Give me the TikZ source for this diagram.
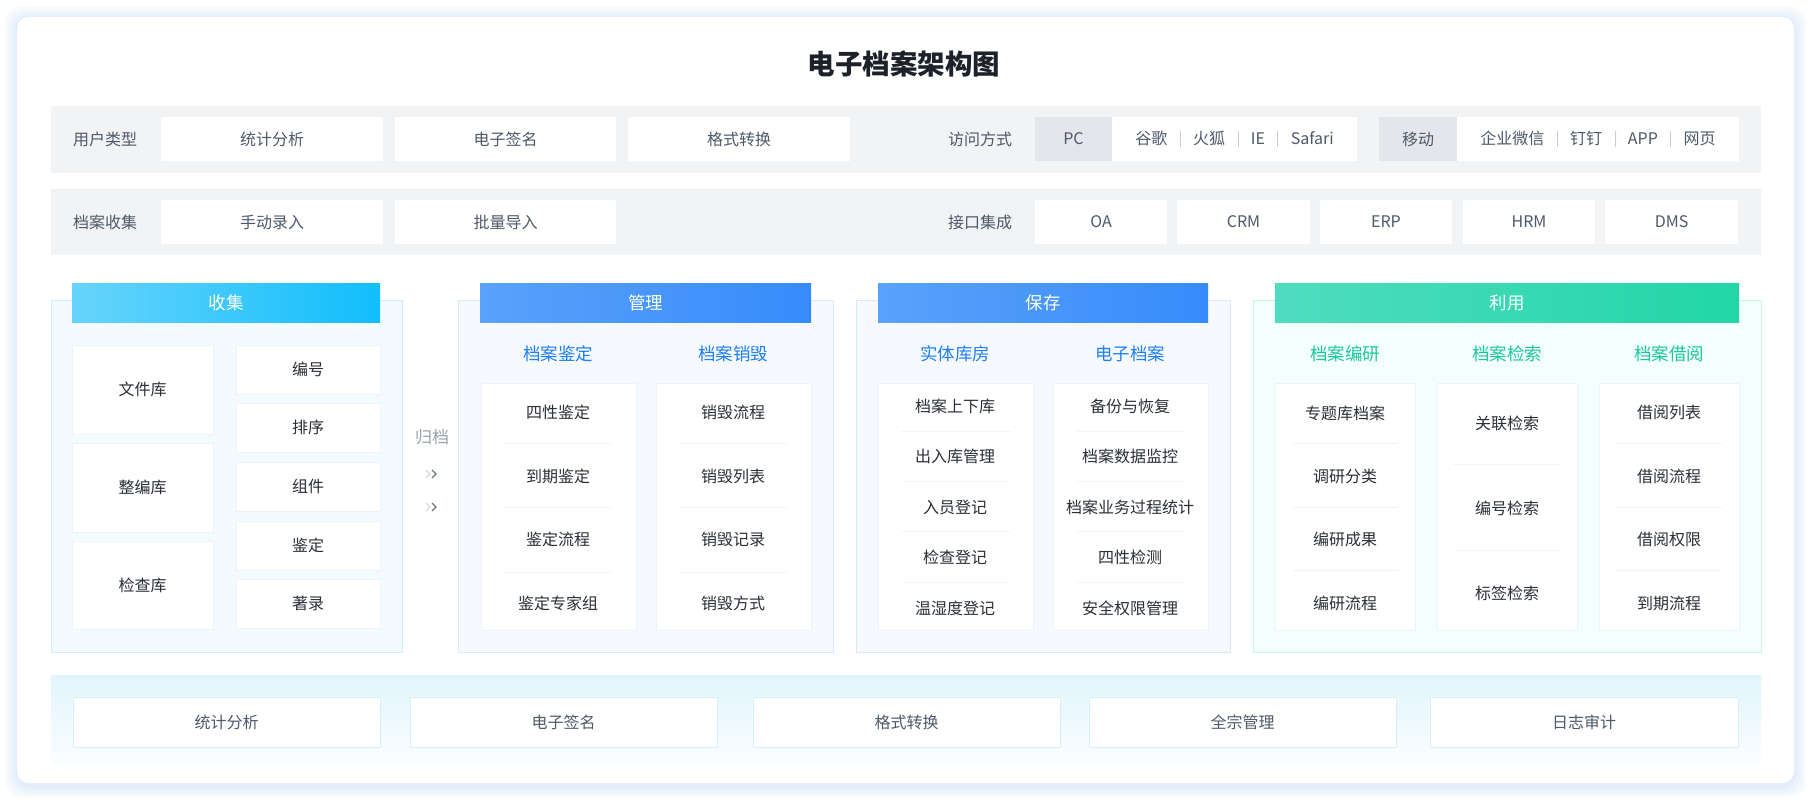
\documentclass[tikz,border=0pt]{standalone}
\usepackage{fontspec}
\setmainfont{Noto Sans CJK SC}
\usetikzlibrary{shadings}
\definecolor{glowc}{HTML}{DCE9FB}
\definecolor{graybar}{HTML}{F2F3F5}
\definecolor{grayhl}{HTML}{E5E6EB}
\definecolor{labelc}{HTML}{4E5969}
\definecolor{txtc}{HTML}{4E5969}
\definecolor{itemc}{HTML}{2B2F36}
\definecolor{titlec}{HTML}{1D2129}
\definecolor{sepc}{HTML}{C9CDD4}
\definecolor{pcfill}{HTML}{F4FBFF}
\definecolor{pcline}{HTML}{CDEEFB}
\definecolor{pmfill}{HTML}{F6F9FE}
\definecolor{pmline}{HTML}{DCE7FB}
\definecolor{pufill}{HTML}{F2FFFC}
\definecolor{puline}{HTML}{C8F5EA}
\definecolor{hcA}{HTML}{66D4FB}
\definecolor{hcB}{HTML}{12BEFC}
\definecolor{hmA}{HTML}{5AA2FB}
\definecolor{hmB}{HTML}{378BFC}
\definecolor{huA}{HTML}{4FDCC0}
\definecolor{huB}{HTML}{22D6A7}
\definecolor{subblue}{HTML}{1F7FF0}
\definecolor{subgreen}{HTML}{1DC79E}
\definecolor{divc}{HTML}{F0F3F8}
\definecolor{wline}{HTML}{EEF3F8}
\definecolor{bandtop}{HTML}{E1F5FD}
\definecolor{bandbot}{HTML}{FBFDFF}
\definecolor{bline}{HTML}{D6F0FA}
\definecolor{arch}{HTML}{9AA3AD}
\definecolor{chevA}{HTML}{D5DAE0}
\definecolor{chevB}{HTML}{6B7480}
\newcommand\sepbar{\hspace{12.5pt}{\color{sepc}\rule[-3pt]{0.8pt}{16pt}}\hspace{12.5pt}}
\newcommand\mybox[7]{\node[#6, minimum width={(#4)-(#2)}, minimum height={(#5)-(#3)}] (#1) at ({((#2)+(#4))/2},{((#3)+(#5))/2}) {#7};}
\newcommand\itm[4]{\node[itemst] (#1) at (#2,#3) {#4};}
\tikzset{
  base/.style={rectangle, inner sep=0pt, outer sep=0pt, font=\fontsize{16}{18}\selectfont, text=txtc},
  cardst/.style={base, fill=white, rounded corners=12pt},
  gbar/.style={base, fill=graybar},
  wbox/.style={base, fill=white},
  hlbox/.style={base, fill=grayhl},
  lbl/.style={inner sep=0pt, font=\fontsize{16}{18}\selectfont, text=labelc},
  panelC/.style={base, fill=pcfill, draw=pcline, line width=1pt},
  panelM/.style={base, fill=pmfill, draw=pmline, line width=1pt},
  panelU/.style={base, fill=pufill, draw=puline, line width=1pt},
  hdrst/.style={base, text=white, font=\fontsize{17.5}{19}\selectfont},
  hdrC/.style={hdrst, left color=hcA, right color=hcB},
  hdrM/.style={hdrst, left color=hmA, right color=hmB},
  hdrU/.style={hdrst, left color=huA, right color=huB},
  cell/.style={base, fill=white, draw=wline, line width=0.6pt, text=itemc},
  listbox/.style={base, fill=white, draw=wline, line width=0.6pt},
  itemst/.style={inner sep=0pt, font=\fontsize{16}{18}\selectfont, text=itemc},
  subB/.style={inner sep=0pt, font=\fontsize{17.5}{19}\selectfont, text=subblue},
  subG/.style={inner sep=0pt, font=\fontsize{17.5}{19}\selectfont, text=subgreen},
  divst/.style={draw=divc, line width=1pt},
  bandst/.style={base, top color=bandtop, bottom color=bandbot},
  bbox/.style={base, fill=white, draw=bline, line width=0.8pt},
  chevL/.style={draw=chevA, line width=1.1pt},
  chevD/.style={draw=chevB, line width=1.1pt},
}
\begin{document}
\begin{tikzpicture}[x=1pt,y=-1pt]
\useasboundingbox[fill=white] (0,0) rectangle (1811,800);
% glow / shadow
\foreach \d/\o in {12/0.18,9/0.22,6/0.3,3/0.45}{
  \fill[glowc, opacity=\o, rounded corners=16pt] ({17-\d},{17-\d+2}) rectangle ({1794+\d},{783+\d+2});
}
\mybox{card}{17}{17}{1794}{783}{cardst}{}
\node[inner sep=0pt, font=\fontsize{27.5}{31}\selectfont\bfseries, text=titlec] (title) at (904,64) {电子档案架构图};

% row 1
\mybox{row1}{51}{106}{1761}{173}{gbar}{}
\node[lbl] (l1) at (105,139) {用户类型};
\mybox{r1a}{161}{117}{383}{161}{wbox}{统计分析}
\mybox{r1b}{395}{117}{616}{161}{wbox}{电子签名}
\mybox{r1c}{628}{117}{850}{161}{wbox}{格式转换}
\node[lbl] (l2) at (980,139) {访问方式};
\mybox{pc}{1035}{117}{1112}{161}{hlbox}{PC}
\mybox{brw}{1112}{117}{1357}{161}{wbox}{谷歌\sepbar 火狐\sepbar IE\sepbar Safari}
\mybox{mob}{1379}{117}{1457}{161}{hlbox}{移动}
\mybox{mobl}{1457}{117}{1739}{161}{wbox}{企业微信\sepbar 钉钉\sepbar APP\sepbar 网页}

% row 2
\mybox{row2}{51}{189}{1761}{255}{gbar}{}
\node[lbl] (l3) at (105,222) {档案收集};
\mybox{r2a}{161}{200}{383}{244}{wbox}{手动录入}
\mybox{r2b}{395}{200}{616}{244}{wbox}{批量导入}
\node[lbl] (l4) at (980,222) {接口集成};
\mybox{oa}{1035}{200}{1167}{244}{wbox}{OA}
\mybox{crm}{1177}{200}{1310}{244}{wbox}{CRM}
\mybox{erp}{1320}{200}{1452}{244}{wbox}{ERP}
\mybox{hrm}{1463}{200}{1595}{244}{wbox}{HRM}
\mybox{dms}{1605}{200}{1738}{244}{wbox}{DMS}

% collect panel
\mybox{colP}{51}{300}{402}{652}{panelC}{}
\mybox{colH}{72}{283}{380}{322}{hdrC}{收集}
\mybox{wjk}{72}{345}{213}{434}{cell}{文件库}
\mybox{zbk}{72}{443}{213}{532}{cell}{整编库}
\mybox{jck}{72}{541}{213}{629}{cell}{检查库}
\mybox{bh}{236}{345}{380}{394}{cell}{编号}
\mybox{px}{236}{403}{380}{452}{cell}{排序}
\mybox{zj}{236}{462}{380}{511}{cell}{组件}
\mybox{jd}{236}{521}{380}{570}{cell}{鉴定}
\mybox{zl}{236}{579}{380}{628}{cell}{著录}

% archive arrow
\node[inner sep=0pt, font=\fontsize{17}{19}\selectfont, text=arch] (gd) at (432,437) {归档};
\draw[chevL] (426,470) -- (430,474) -- (426,478);
\draw[chevD] (432,470) -- (436,474) -- (432,478);
\draw[chevL] (426,503) -- (430,507) -- (426,511);
\draw[chevD] (432,503) -- (436,507) -- (432,511);

% manage panel
\mybox{manP}{458}{300}{833}{652}{panelM}{}
\mybox{manH}{480}{283}{811}{322}{hdrM}{管理}
\node[subB] (s1) at (558,354) {档案鉴定};
\node[subB] (s2) at (733,354) {档案销毁};
\mybox{m1}{481}{383}{636}{630}{listbox}{}
\mybox{m2}{656}{383}{811}{630}{listbox}{}
\itm{m1a}{558}{412}{四性鉴定}
\itm{m1b}{558}{476}{到期鉴定}
\itm{m1c}{558}{539}{鉴定流程}
\itm{m1d}{558}{603}{鉴定专家组}
\itm{m2a}{733}{412}{销毁流程}
\itm{m2b}{733}{476}{销毁列表}
\itm{m2c}{733}{539}{销毁记录}
\itm{m2d}{733}{603}{销毁方式}
\foreach \yy in {443,507,572}{
  \draw[divst] (504,\yy) -- (612,\yy);
  \draw[divst] (679,\yy) -- (787,\yy);
}

% save panel
\mybox{savP}{856}{300}{1230}{652}{panelM}{}
\mybox{savH}{878}{283}{1208}{322}{hdrM}{保存}
\node[subB] (s3) at (955,354) {实体库房};
\node[subB] (s4) at (1130,354) {电子档案};
\mybox{v1}{878}{383}{1033}{630}{listbox}{}
\mybox{v2}{1053}{383}{1208}{630}{listbox}{}
\itm{v1a}{955}{406}{档案上下库}
\itm{v1b}{955}{456}{出入库管理}
\itm{v1c}{955}{507}{入员登记}
\itm{v1d}{955}{557}{检查登记}
\itm{v1e}{955}{608}{温湿度登记}
\itm{v2a}{1130}{406}{备份与恢复}
\itm{v2b}{1130}{456}{档案数据监控}
\itm{v2c}{1130}{507}{档案业务过程统计}
\itm{v2d}{1130}{557}{四性检测}
\itm{v2e}{1130}{608}{安全权限管理}
\foreach \yy in {431,481,531,582}{
  \draw[divst] (902,\yy) -- (1010,\yy);
  \draw[divst] (1077,\yy) -- (1185,\yy);
}

% use panel
\mybox{useP}{1253}{300}{1761}{652}{panelU}{}
\mybox{useH}{1275}{283}{1739}{322}{hdrU}{利用}
\node[subG] (s5) at (1345,354) {档案编研};
\node[subG] (s6) at (1507,354) {档案检索};
\node[subG] (s7) at (1669,354) {档案借阅};
\mybox{u1}{1275}{383}{1415}{630}{listbox}{}
\mybox{u2}{1437}{383}{1577}{630}{listbox}{}
\mybox{u3}{1599}{383}{1739}{630}{listbox}{}
\itm{u1a}{1345}{413}{专题库档案}
\itm{u1b}{1345}{476}{调研分类}
\itm{u1c}{1345}{539}{编研成果}
\itm{u1d}{1345}{603}{编研流程}
\itm{u2a}{1507}{423}{关联检索}
\itm{u2b}{1507}{508}{编号检索}
\itm{u2c}{1507}{593}{标签检索}
\itm{u3a}{1669}{412}{借阅列表}
\itm{u3b}{1669}{476}{借阅流程}
\itm{u3c}{1669}{539}{借阅权限}
\itm{u3d}{1669}{603}{到期流程}
\foreach \yy in {443,507,570}{
  \draw[divst] (1292,\yy) -- (1398,\yy);
  \draw[divst] (1616,\yy) -- (1722,\yy);
}
\foreach \yy in {464,550}{
  \draw[divst] (1454,\yy) -- (1560,\yy);
}

% bottom band
\mybox{band}{51}{675}{1761}{764}{bandst}{}
\mybox{b1}{73}{697}{380}{747}{bbox}{统计分析}
\mybox{b2}{410}{697}{717}{747}{bbox}{电子签名}
\mybox{b3}{753}{697}{1060}{747}{bbox}{格式转换}
\mybox{b4}{1089}{697}{1396}{747}{bbox}{全宗管理}
\mybox{b5}{1430}{697}{1738}{747}{bbox}{日志审计}
\end{tikzpicture}
\end{document}
